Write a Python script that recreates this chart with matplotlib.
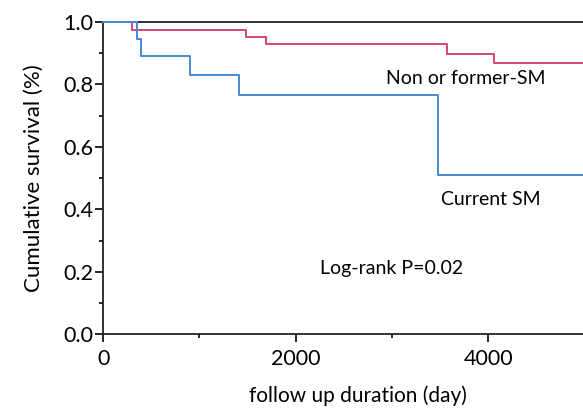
import matplotlib.pyplot as plt

plt.rcParams['font.family'] = ['Lato', 'DejaVu Sans']

# Kaplan-Meier curves (day, survival)
non_days = [0, 295, 1480, 1690, 3570, 4060, 5000]
non_surv = [1.0, 0.974, 0.951, 0.929, 0.899, 0.868, 0.868]

cur_days = [0, 347, 392, 901, 1407, 3481, 5000]
cur_surv = [1.0, 0.945, 0.89, 0.831, 0.766, 0.51, 0.51]

fig = plt.figure(figsize=(5.83, 4.08), dpi=100)
ax = fig.add_axes([0.177, 0.181, 0.8256, 0.765])

ax.step(non_days, non_surv, where='post', color='#d6466f', lw=1.4, clip_on=False, zorder=3)
ax.step(cur_days, cur_surv, where='post', color='#4a88d4', lw=1.4, clip_on=False, zorder=3)

ax.set_xlim(0, 5000)
ax.set_ylim(0, 1.0)
ax.set_xticks([0, 2000, 4000])
ax.set_xticks([1000, 3000], minor=True)
ax.set_yticks([0.0, 0.2, 0.4, 0.6, 0.8, 1.0])
ax.set_yticks([0.1, 0.3, 0.5, 0.7, 0.9], minor=True)
ax.set_yticklabels(['0.0', '0.2', '0.4', '0.6', '0.8', '1.0'])
ax.tick_params(which='major', direction='out', length=6, width=1.2, labelsize=15.5, pad=1)
ax.tick_params(axis='x', which='major', pad=5)
ax.tick_params(which='minor', direction='out', length=3, width=1.2)

for s in ['left', 'bottom', 'top']:
    ax.spines[s].set_linewidth(1.3)
    ax.spines[s].set_color('#222222')
ax.spines['right'].set_visible(False)

ax.set_xlabel('follow up duration (day)', fontsize=15, labelpad=9)
ax.xaxis.set_label_coords(0.53, -0.165)
ax.set_ylabel('Cumulative survival (%)', fontsize=16, labelpad=14)

ax.text(3770, 0.82, 'Non or former-SM', fontsize=14, ha='center', va='center')
ax.text(4030, 0.43, 'Current SM', fontsize=14, ha='center', va='center')
ax.text(3000, 0.21, 'Log-rank P=0.02', fontsize=14, ha='center', va='center')

fig.savefig('out.png', dpi=100)
